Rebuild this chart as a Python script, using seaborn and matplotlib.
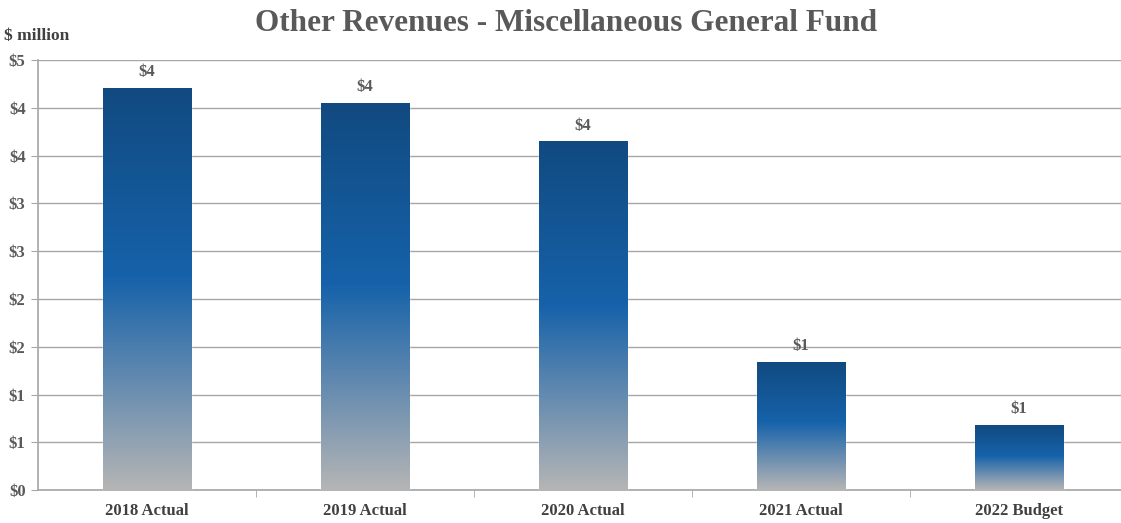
import math
import numpy as np
import pandas as pd
import seaborn as sns
import matplotlib.pyplot as plt
from matplotlib.colors import LinearSegmentedColormap
from matplotlib.ticker import MultipleLocator, FuncFormatter

# Chart data ($ million)
categories = ['2018 Actual', '2019 Actual', '2020 Actual', '2021 Actual', '2022 Budget']
revenues = [4.21, 4.05, 3.65, 1.34, 0.68]

df = pd.DataFrame({'Year': categories, 'Revenue': revenues})

sns.set_style('white')
plt.rcParams['font.family'] = ['Liberation Serif', 'DejaVu Serif']

text_gray = '#595959'
grid_gray = '#a6a6a6'

fig = plt.figure(figsize=(11.21, 5.23), dpi=100)
# plot area runs slightly past the right edge, like the original
ax = fig.add_axes([0.034, 0.063, 0.9724, 0.822])

sns.barplot(data=df, x='Year', y='Revenue', color='#1560a8', width=0.405, ax=ax, zorder=3)

# vertical gradient: dark navy top -> bright blue -> gray bottom
grad_cmap = LinearSegmentedColormap.from_list(
    'bar_grad', [(0.0, '#b5b5b5'), (0.53, '#1662aa'), (1.0, '#114a80')])
grad = np.linspace(0, 1, 256).reshape(-1, 1)

for patch, val in zip(ax.patches, revenues):
    x0 = patch.get_x()
    w = patch.get_width()
    im = ax.imshow(grad, cmap=grad_cmap, origin='lower', aspect='auto',
                   extent=[x0, x0 + w, 0, val], zorder=4)
    im.set_clip_path(patch)
    ax.text(x0 + w / 2, val + 0.08, '$' + str(int(math.floor(val + 0.5))),
            ha='center', va='bottom', fontsize=12, fontweight='bold', color=text_gray, zorder=5)

ax.set_xlim(-0.5, len(categories) - 0.5)
ax.set_ylim(0, 4.5)
ax.yaxis.set_major_locator(MultipleLocator(0.5))
ax.yaxis.set_major_formatter(FuncFormatter(lambda v, p: '$' + str(int(math.floor(v + 0.5)))))
ax.grid(axis='y', color=grid_gray, linewidth=1, zorder=0)
ax.set_axisbelow(True)

# ticks at category boundaries on x
ax.set_xticks(np.arange(len(categories)))
ax.set_xticklabels(categories)
ax.set_xticks(np.arange(0.5, len(categories) - 0.5, 1), minor=True)
ax.tick_params(axis='x', which='major', length=0, pad=9, labelsize=12, labelcolor='#404040')
ax.tick_params(axis='x', which='minor', length=5, color=grid_gray, direction='out', bottom=True)
ax.tick_params(axis='y', length=5, color=grid_gray, direction='out', left=True, pad=4,
               labelsize=12, labelcolor=text_gray)
for lab in ax.get_xticklabels() + ax.get_yticklabels():
    lab.set_fontweight('bold')

ax.set_xlabel('')
ax.set_ylabel('')
for s in ['top', 'right']:
    ax.spines[s].set_visible(False)
for s in ['left', 'bottom']:
    ax.spines[s].set_color(grid_gray)
    ax.spines[s].set_linewidth(1.2)

fig.text(0.505, 0.955, 'Other Revenues - Miscellaneous General Fund', ha='center', va='center',
         fontsize=22.5, fontweight='bold', color=text_gray)
fig.text(0.004, 0.932, '$ million', ha='left', va='center', fontsize=12.5,
         fontweight='bold', color='#404040')

fig.savefig('out.png', dpi=100)
